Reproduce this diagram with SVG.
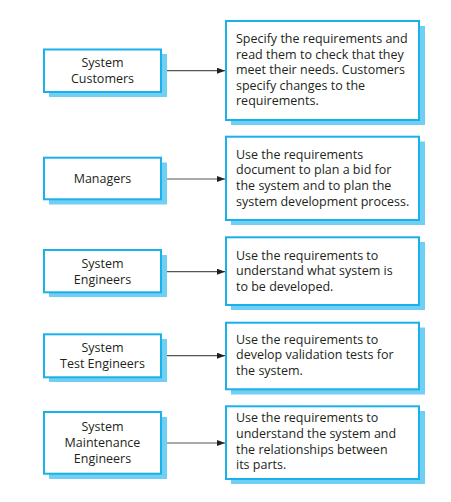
<svg xmlns="http://www.w3.org/2000/svg" width="451" height="502" viewBox="0 0 451 502">
<style>
.sh{fill:#72cff4}
.bx{fill:#fff;stroke:#1ab0ea;stroke-width:2}
text{font-family:"Open Sans","Liberation Sans",sans-serif;font-size:12.5px;fill:#231f20}
.c{text-anchor:middle}
.ln{stroke:#555;stroke-width:1.2;fill:none}
</style>
<defs>
<marker id="ah" markerWidth="8" markerHeight="6" refX="8" refY="3" orient="auto" markerUnits="userSpaceOnUse">
<path d="M0,0 L8,3 L0,6 Z" fill="#231f20"/>
</marker>
</defs>
<rect width="451" height="502" fill="#fff"/>
<g id="connectors">
<line class="ln" x1="161" y1="70.7" x2="225" y2="70.7" marker-end="url(#ah)"/>
<line class="ln" x1="161" y1="179" x2="225" y2="179" marker-end="url(#ah)"/>
<line class="ln" x1="161" y1="271.7" x2="225" y2="271.7" marker-end="url(#ah)"/>
<line class="ln" x1="161" y1="355.7" x2="225" y2="355.7" marker-end="url(#ah)"/>
<line class="ln" x1="161" y1="443" x2="225" y2="443" marker-end="url(#ah)"/>
</g>
<g id="n1">
<rect class="sh" x="49" y="54" width="118" height="43"/>
<rect class="bx" x="44" y="49.5" width="117" height="42.5"/>
<text class="c" x="102.5" y="67">System</text>
<text class="c" x="102.5" y="83">Customers</text>
</g>
<g id="d1">
<rect class="sh" x="231" y="26" width="194" height="99"/>
<rect class="bx" x="226" y="21" width="193" height="99"/>
<text x="236" y="43">Specify the requirements and</text>
<text x="236" y="58.7">read them to check that they</text>
<text x="236" y="74.2">meet their needs. Customers</text>
<text x="236" y="89.6">specify changes to the</text>
<text x="236" y="105">requirements.</text>
</g>
<g id="n2">
<rect class="sh" x="49" y="162.5" width="118" height="42"/>
<rect class="bx" x="44" y="157.7" width="117" height="41.6"/>
<text class="c" x="102.5" y="183">Managers</text>
</g>
<g id="d2">
<rect class="sh" x="231" y="141.5" width="194" height="83.5"/>
<rect class="bx" x="226" y="136.7" width="193" height="83.3"/>
<text x="236" y="158.5">Use the requirements</text>
<text x="236" y="174.3">document to plan a bid for</text>
<text x="236" y="190">the system and to plan the</text>
<text x="236" y="205.5">system development process.</text>
</g>
<g id="n3">
<rect class="sh" x="49" y="255" width="118" height="42"/>
<rect class="bx" x="44" y="250" width="117" height="42.3"/>
<text class="c" x="102.5" y="268">System</text>
<text class="c" x="102.5" y="283.5">Engineers</text>
</g>
<g id="d3">
<rect class="sh" x="231" y="242" width="194" height="68"/>
<rect class="bx" x="226" y="237.3" width="193" height="67.7"/>
<text x="236" y="259.5">Use the requirements to</text>
<text x="236" y="275.3">understand what system is</text>
<text x="236" y="291">to be developed.</text>
</g>
<g id="n4">
<rect class="sh" x="49" y="339" width="118" height="43"/>
<rect class="bx" x="44" y="334.3" width="117" height="43"/>
<text class="c" x="102.5" y="352">System</text>
<text class="c" x="102.5" y="368">Test Engineers</text>
</g>
<g id="d4">
<rect class="sh" x="231" y="327.5" width="194" height="67"/>
<rect class="bx" x="226" y="322.7" width="193" height="66.6"/>
<text x="236" y="343.5">Use the requirements to</text>
<text x="236" y="359.3">develop validation tests for</text>
<text x="236" y="375">the system.</text>
</g>
<g id="n5">
<rect class="sh" x="49" y="417" width="118" height="62"/>
<rect class="bx" x="44" y="412" width="117" height="61.7"/>
<text class="c" x="102.5" y="431">System</text>
<text class="c" x="102.5" y="447">Maintenance</text>
<text class="c" x="102.5" y="462.5">Engineers</text>
</g>
<g id="d5">
<rect class="sh" x="231" y="411" width="194" height="73"/>
<rect class="bx" x="226" y="406.3" width="193" height="72.7"/>
<text x="236" y="422.3">Use the requirements to</text>
<text x="236" y="438">understand the system and</text>
<text x="236" y="453.7">the relationships between</text>
<text x="236" y="469.3">its parts.</text>
</g>
</svg>
